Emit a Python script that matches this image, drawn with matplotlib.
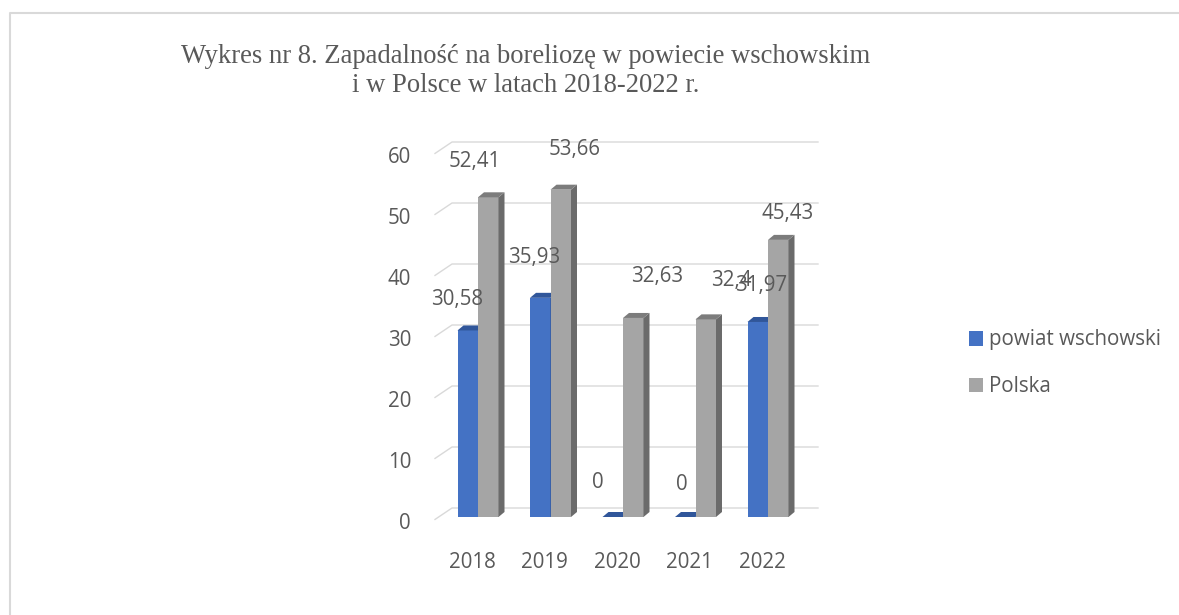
import matplotlib
matplotlib.use('Agg')
import matplotlib.pyplot as plt
from matplotlib.patches import Polygon
from matplotlib.lines import Line2D
import numpy as np

# data
years = ['2018', '2019', '2020', '2021', '2022']
powiat = [30.58, 35.93, 0, 0, 31.97]
polska = [52.41, 53.66, 32.63, 32.4, 45.43]
powiat_lbl = ['30,58', '35,93', '0', '0', '31,97']
polska_lbl = ['52,41', '53,66', '32,63', '32,4', '45,43']
yticks = [0, 10, 20, 30, 40, 50, 60]

# label nudges in pixels (excel 3d label placement)
powiat_off = [(-11, 31), (-6, 40), (-15, 34), (-3, 32), (3, 36)]
polska_off = [(-14, 36), (14, 40), (24, 41), (26, 39), (9, 26)]

W, H = 1179, 615
PX_X, PX_Y = 72.5, 6.1      # pixels per category / per unit
X0, Y0 = 478, 517           # pixel of category 0 / value 0 (bar front)

txt = '#595959'
grid = '#D9D9D9'
blue, blue_top, blue_side = '#4472C4', '#30569A', '#2F528F'
grey, grey_top, grey_side = '#A5A5A5', '#7C7C7C', '#6B6B6B'
font = ['Open Sans', 'DejaVu Sans']
fs = 14.8

fig = plt.figure(figsize=(W / 100, H / 100), dpi=100)
ax = fig.add_axes([0, 0, 1, 1])
ax.set_xlim(-X0 / PX_X, (W - X0) / PX_X)
ax.set_ylim((Y0 - H) / PX_Y, Y0 / PX_Y)
ax.axis('off')

bw = 20.5 / PX_X
ddx, ddy = 6 / PX_X, 5 / PX_Y

# back wall gridlines with the slanted side wall part
for v in yticks:
    ax.plot([(435 - X0) / PX_X, (452 - X0) / PX_X, (818 - X0) / PX_X],
            [v - 0.4, v + 9 / PX_Y, v + 9 / PX_Y], color=grid, lw=1, zorder=1)
    ax.text((411 - X0) / PX_X, v - 1.0, str(v), ha='right', va='center',
            fontsize=fs, color=txt, family=font)

x = np.arange(len(years))


def bar3d(xl, h, top, side, z):
    ax.add_patch(Polygon([(xl + bw, 0), (xl + bw + ddx, ddy), (xl + bw + ddx, h + ddy), (xl + bw, h)],
                         closed=True, fc=side, ec='none', zorder=z))
    ax.add_patch(Polygon([(xl, h), (xl + bw, h), (xl + bw + ddx, h + ddy), (xl + ddx, h + ddy)],
                         closed=True, fc=top, ec='none', zorder=z))


b1 = ax.bar(x - bw, powiat, width=bw, align='edge', color=blue, zorder=2, label='powiat wschowski')
for i, h in enumerate(powiat):
    bar3d(x[i] - bw, h, blue_top, blue_side, 2)
b2 = ax.bar(x, polska, width=bw, align='edge', color=grey, zorder=3, label='Polska')
for i, h in enumerate(polska):
    bar3d(x[i], h, grey_top, grey_side, 3)

for i in range(len(years)):
    ax.annotate(powiat_lbl[i], (x[i] - bw / 2, powiat[i]), xytext=powiat_off[i],
                textcoords='offset pixels', ha='center', va='center',
                fontsize=fs, color=txt, family=font, zorder=5)
    ax.annotate(polska_lbl[i], (x[i] + bw / 2, polska[i]), xytext=polska_off[i],
                textcoords='offset pixels', ha='center', va='center',
                fontsize=fs, color=txt, family=font, zorder=5)
    ax.text(x[i] - 6 / PX_X, -45 / PX_Y, years[i], ha='center', va='center',
            fontsize=fs, color=txt, family=font)

leg = ax.legend(handles=[b1, b2], loc='upper left', bbox_to_anchor=(950 / W, 1 - 311 / H),
                frameon=False, handlelength=0.7, handleheight=0.7, handletextpad=0.3,
                labelspacing=1.25, prop={'family': font, 'size': fs})
for t in leg.get_texts():
    t.set_color(txt)

fig.text(526 / W, 1 - 71 / H, 'Wykres nr 8. Zapadalność na boreliozę w powiecie wschowskim\n'
         'i w Polsce w latach 2018-2022 r.', ha='center', va='center', multialignment='center',
         fontsize=19.2, color=txt, family=['Liberation Serif', 'DejaVu Serif'], linespacing=1.2)

# chart area border (only left and top edges show)
fig.add_artist(Line2D([10 / W, 10 / W, 1.0], [0, 1 - 13 / H, 1 - 13 / H], color=grid, lw=1.5))

fig.savefig('out.png', dpi=100)
